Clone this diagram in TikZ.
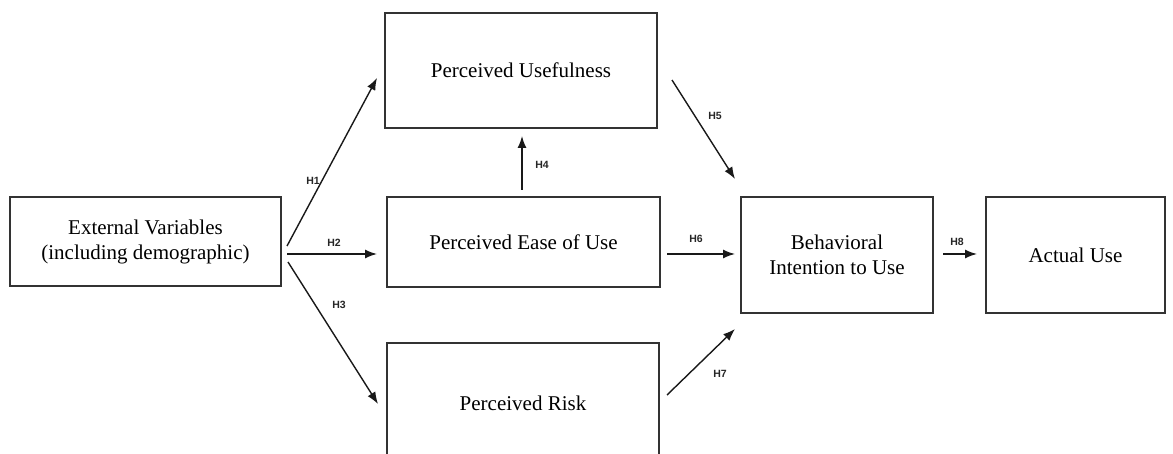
\documentclass[tikz,border=0pt]{standalone}
\usepackage{fontspec}
\setmainfont{Liberation Serif}
\newfontfamily\hfont{Liberation Sans}
\usetikzlibrary{arrows.meta}
\begin{document}
\begin{tikzpicture}[x=1pt,y=-1pt,
  construct/.style={draw=black!80, line width=1.5pt, fill=white, inner sep=0pt,
    align=center, font=\fontsize{21}{25}\selectfont},
  path/.style={draw=black!90, line width=1.4pt, -{Latex[length=12pt,width=9pt]}},
  hyp/.style={font=\hfont\bfseries\fontsize{10.5}{12}\selectfont, text=black!85, inner sep=0pt}]
\useasboundingbox (0,0) rectangle (1173,454);
\clip (0,0) rectangle (1173,454);
\fill[white] (0,0) rectangle (1173,454);

% constructs
\node[construct, minimum width=271pt, minimum height=89pt] (ext) at (145.5,241.5)
  {External Variables\\(including demographic)};
\node[construct, minimum width=272pt, minimum height=115pt] (pu) at (521,70.5)
  {Perceived Usefulness};
\node[construct, minimum width=273pt, minimum height=90pt] (peou) at (523.5,242)
  {Perceived Ease of Use};
\node[construct, minimum width=272pt, minimum height=120pt] (pr) at (523,403)
  {Perceived Risk};
\node[construct, minimum width=192pt, minimum height=116pt] (bi) at (837,255)
  {Behavioral\\Intention to Use};
\node[construct, minimum width=179pt, minimum height=116pt] (au) at (1075.5,255)
  {Actual Use};

% arrow end points
\coordinate (h1s) at (287,246);  \coordinate (h1e) at (377,78);
\coordinate (h2s) at (287,254);  \coordinate (h2e) at (377,254);
\coordinate (h3s) at (288,262);  \coordinate (h3e) at (378,404);
\coordinate (h4s) at (522,190);  \coordinate (h4e) at (522,136);
\coordinate (h5s) at (672,80);   \coordinate (h5e) at (735,179);
\coordinate (h6s) at (667,254);  \coordinate (h6e) at (735,254);
\coordinate (h7s) at (667,395);  \coordinate (h7e) at (735,329);
\coordinate (h8s) at (943,254);  \coordinate (h8e) at (977,254);

% hypothesised paths
\draw[path] (h1s) -- (h1e);
\draw[path] (h2s) -- (h2e);
\draw[path] (h3s) -- (h3e);
\draw[path] (h4s) -- (h4e);
\draw[path] (h5s) -- (h5e);
\draw[path] (h6s) -- (h6e);
\draw[path] (h7s) -- (h7e);
\draw[path] (h8s) -- (h8e);

% hypothesis labels
\node[hyp] (l1) at (313,181) {H1};
\node[hyp] (l2) at (334,243) {H2};
\node[hyp] (l3) at (339,305) {H3};
\node[hyp] (l4) at (542,165) {H4};
\node[hyp] (l5) at (715,116) {H5};
\node[hyp] (l6) at (696,239) {H6};
\node[hyp] (l7) at (720,374) {H7};
\node[hyp] (l8) at (957,242) {H8};
\end{tikzpicture}
\end{document}
